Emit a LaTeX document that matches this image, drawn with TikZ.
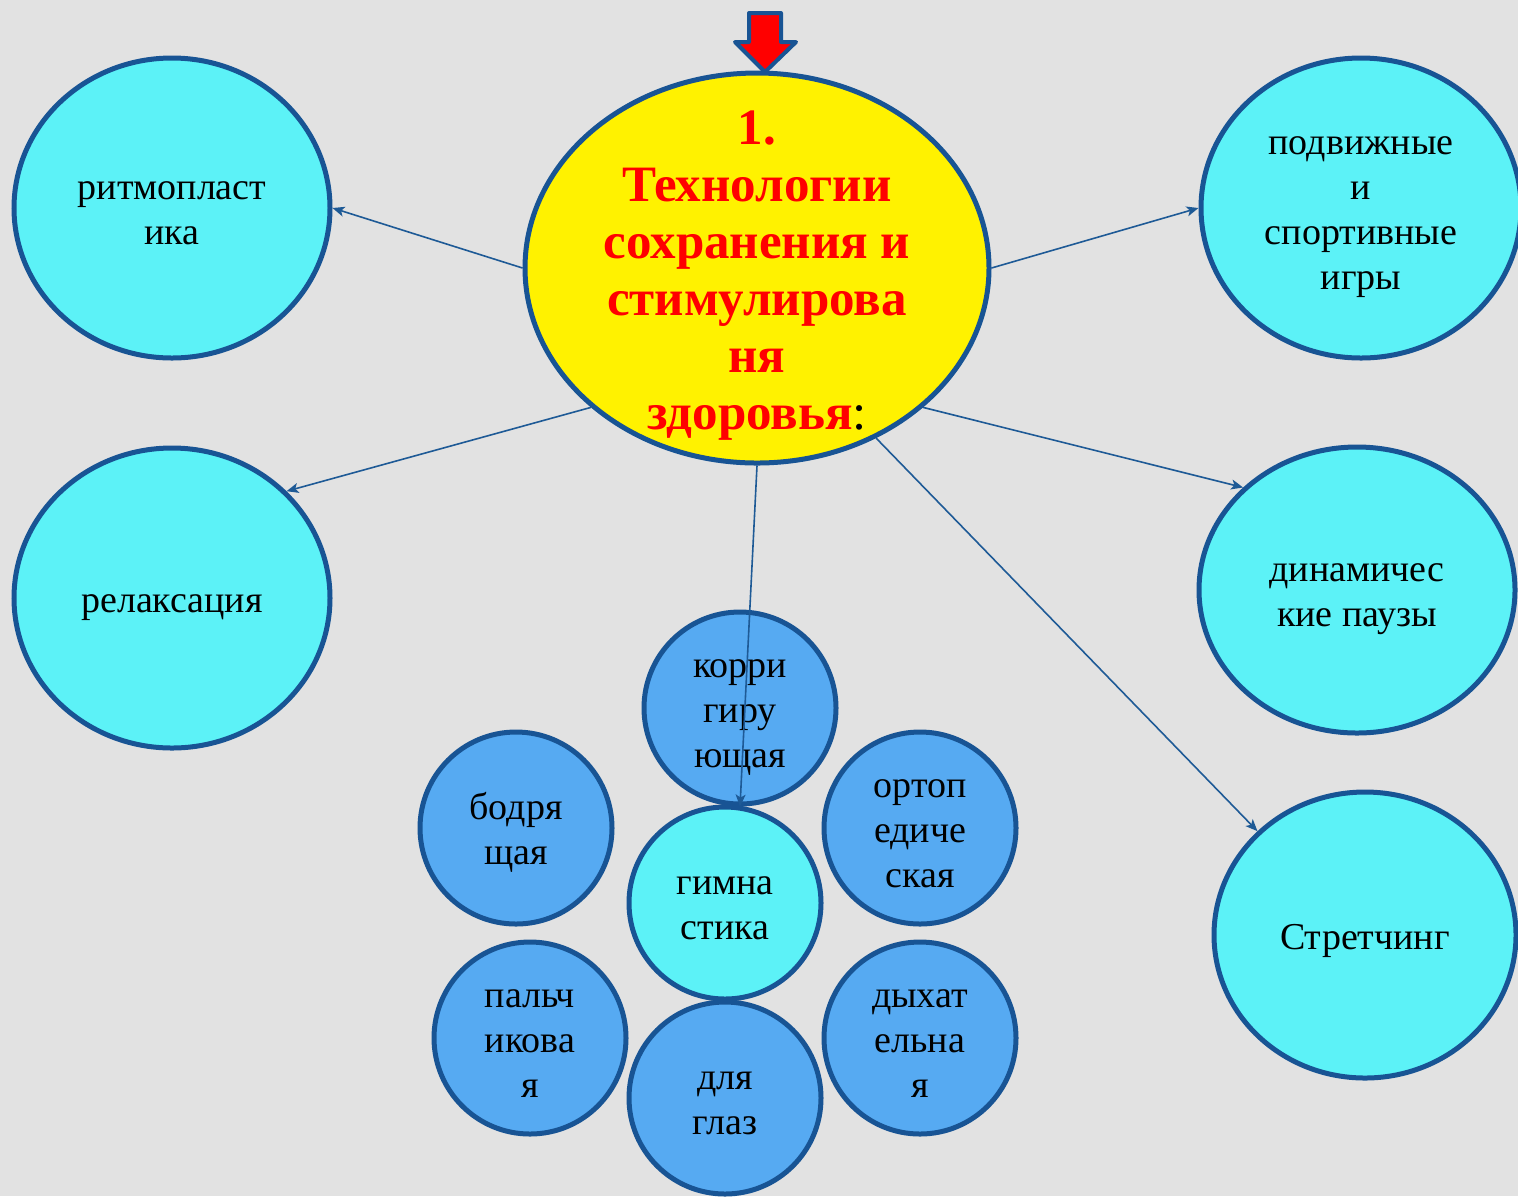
\documentclass[tikz,border=0pt]{standalone}
\usepackage{fontspec}
\setmainfont{Liberation Serif}
\usetikzlibrary{arrows.meta, shapes.geometric}
\definecolor{bg_grey}{RGB}{226, 226, 226}
\definecolor{rim_blue}{RGB}{24, 84, 148}
\definecolor{line_blue}{RGB}{30, 90, 150}
\definecolor{topic_cyan}{RGB}{92, 242, 247}
\definecolor{kind_blue}{RGB}{86, 170, 242}
\definecolor{title_red}{RGB}{255, 0, 0}
\newcommand{\cellrows}[1]{\begin{tabular}{@{}c@{}}\rule{0pt}{21pt}#1\end{tabular}}

\begin{document}
\begin{tikzpicture}[x=0.5pt, y=-0.5pt, >={Stealth[length=6pt, width=5pt, inset=1.5pt]},
      lines/.style={inner sep=0pt, font=\fontsize{19}{22.5}\selectfont},
      topic/.style={lines, ellipse, draw=rim_blue, line width=2.5pt, fill=topic_cyan},
      kind/.style={lines, circle, draw=rim_blue, line width=2.5pt, fill=kind_blue, minimum size=96pt},
      headline/.style={align=center, text=title_red, font=\bfseries\fontsize{25.5}{28.5}\selectfont},
      link/.style={->, draw=line_blue, line width=0.8pt}]
    \useasboundingbox (0,0) rectangle (1518,1196);
    \fill[bg_grey] (0,0) rectangle (1518,1196);

    % main topic
    \node[ellipse, draw=rim_blue, line width=2.5pt, fill=yellow, minimum width=232pt,
      minimum height=195pt] (tech) at (757,268) {};
    \node[headline] (head) at ([yshift=-4pt]tech.center)
      {1.\\Технологии\\сохранения и\\стимулирова\\ня\\здоровья{\color{black}\mdseries:}};
    \filldraw[fill=red, draw=rim_blue, line width=2pt, line join=round]
      (749,13) -- (781,13) -- (781,42) -- (796,42) -- (765,72) -- (735,42) -- (749,42) -- cycle;

    % big topics
    \node[topic, minimum width=158pt, minimum height=150pt] (rhythm)  at (172,208)  {\cellrows{ритмопласт\\ика}};
    \node[topic, minimum width=158pt, minimum height=150pt] (relax)   at (172,598)  {\cellrows{релаксация}};
    \node[topic, minimum width=160pt, minimum height=150pt] (games)   at (1361,208) {\cellrows{подвижные\\и\\спортивные\\игры}};
    \node[topic, minimum width=158pt, minimum height=143pt] (pauses)  at (1357,590) {\cellrows{динамичес\\кие паузы}};
    \node[topic, minimum width=151pt, minimum height=143pt] (stretch) at (1365,935) {\cellrows{Стретчинг}};

    % gymnastics kinds
    \node[kind] (korr)   at (740,708)  {\cellrows{корри\\гиру\\ющая}};
    \node[kind] (bodr)   at (516,828)  {\cellrows{бодря\\щая}};
    \node[kind] (ortho)  at (920,828)  {\cellrows{ортоп\\едиче\\ская}};
    \node[kind, fill=topic_cyan] (gym) at (725,903) {\cellrows{гимна\\стика}};
    \node[kind] (finger) at (530,1038) {\cellrows{пальч\\икова\\я}};
    \node[kind] (breath) at (920,1038) {\cellrows{дыхат\\ельна\\я}};
    \node[kind] (eyes)   at (725,1098) {\cellrows{для\\глаз}};

    \draw[link] (tech.180) -- (rhythm.east);
    \draw[link] (tech.0)   -- (games.west);
    \draw[link] (tech.220) -- (relax.43);
    \draw[link] (tech.320) -- (pauses.138);
    \draw[link] (tech.305) -- (stretch.136);
    \draw[link] (tech.south) -- (korr.south);
  \end{tikzpicture}
\end{document}
